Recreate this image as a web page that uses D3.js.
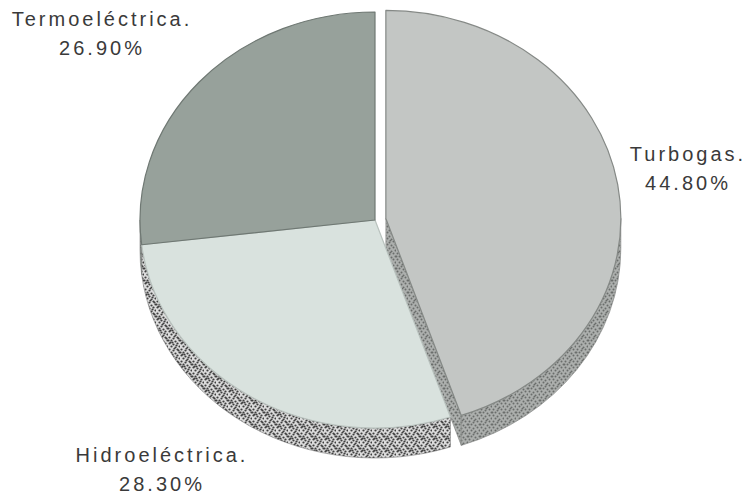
<!DOCTYPE html>
<html>
<head>
<meta charset="utf-8">
<script src="https://cdn.jsdelivr.net/npm/d3@7"></script>
<style>
  html, body { margin: 0; padding: 0; background: #fff; }
  svg { display: block; }
</style>
</head>
<body>
<div id="chart"></div>
<script>
  // data, clockwise from 12 o'clock
  const categories = ['Turbogas', 'Hidroeléctrica', 'Termoeléctrica'];
  const shares = [44.8, 28.3, 26.9];
  const shareLabels = ['44.80%', '28.30%', '26.90%'];
  const exploded = ['Turbogas'];

  const width = 747
      , height = 499
      , cx = 375
      , cy = 220
      , rx = 235
      , ry = 208
      , depth = 30
      , explodeBy = 11
      ;

  const topColor = { 'Turbogas': '#c3c6c4', 'Hidroeléctrica': '#d9e2de', 'Termoeléctrica': '#97a19b' };
  const edgeColor = { 'Turbogas': '#858986', 'Hidroeléctrica': '#b9c2be', 'Termoeléctrica': '#6f7873' };
  const sideFill = { 'Turbogas': 'url(#stippleGray)', 'Hidroeléctrica': 'url(#stippleDots)', 'Termoeléctrica': 'url(#stippleDark)' };

  // label positions (centre of the two-line block)
  const labelPos = {
    'Turbogas': [688, 163],
    'Hidroeléctrica': [162, 464],
    'Termoeléctrica': [102, 28]
  };

  const table = categories.map((c, i) => ({ name: c, value: shares[i], pct: shareLabels[i] }));

  const pie = d3.pie()
    .sort(null)
    .value(d => d.value)
    .startAngle(0)
    .endAngle(2 * Math.PI);

  const arcs = pie(table);

  const svg = d3.select('#chart')
    .append('svg')
    .attr('width', width)
    .attr('height', height);

  const defs = svg.append('defs');

  function stipple(id, bg, dot, n, r) {
    const size = 12;
    const p = defs.append('pattern')
      .attr('id', id)
      .attr('patternUnits', 'userSpaceOnUse')
      .attr('width', size)
      .attr('height', size);
    p.append('rect').attr('width', size).attr('height', size).attr('fill', bg);
    // fixed dot layout, looks like print screening
    const spots = [[1,1],[5,2],[9,1],[3,4],[7,5],[11,4],[1,7],[5,8],[9,7],[3,10],[7,11],[11,10],[6,0],[0,4],[8,9],[2,6],[10,2],[4,6]];
    spots.slice(0, n).forEach(s => {
      p.append('circle').attr('cx', s[0] + 0.5).attr('cy', s[1] + 0.5).attr('r', r).attr('fill', dot);
    });
  }
  stipple('stippleDots', '#dcdcdc', '#3f3f3f', 18, 1.1);
  stipple('stippleGray', '#acafad', '#6a6d6b', 14, 1);
  stipple('stippleDark', '#8a918d', '#555b57', 10, 1);

  function offsetOf(d) {
    if (!exploded.includes(d.data.name)) return [0, 0];
    const mid = (d.startAngle + d.endAngle) / 2;
    return [explodeBy * Math.sin(mid), -explodeBy * Math.cos(mid) * ry / rx];
  }

  function pt(a, o, dz) {
    return [cx + o[0] + rx * Math.sin(a), cy + o[1] - ry * Math.cos(a) + (dz || 0)];
  }

  function topPath(d) {
    const o = offsetOf(d);
    const p0 = pt(d.startAngle, o), p1 = pt(d.endAngle, o);
    const large = d.endAngle - d.startAngle > Math.PI ? 1 : 0;
    return `M${cx + o[0]},${cy + o[1]}L${p0}A${rx},${ry} 0 ${large} 1 ${p1}Z`;
  }

  function outerSide(d) {
    const s = Math.max(d.startAngle, Math.PI / 2);
    const e = Math.min(d.endAngle, 3 * Math.PI / 2);
    if (e <= s) return null;
    const o = offsetOf(d);
    const large = e - s > Math.PI ? 1 : 0;
    return `M${pt(s, o)}A${rx},${ry} 0 ${large} 1 ${pt(e, o)}` +
           `L${pt(e, o, depth)}A${rx},${ry} 0 ${large} 0 ${pt(s, o, depth)}Z`;
  }

  function endFace(d) {
    // the cut face at the end angle shows only where the slice is pulled out
    if (!exploded.includes(d.data.name)) return null;
    const o = offsetOf(d);
    const c = [cx + o[0], cy + o[1]];
    const p = pt(d.endAngle, o);
    return `M${c}L${p}L${p[0]},${p[1] + depth}L${c[0]},${c[1] + depth}Z`;
  }

  const body = svg.append('g');

  body.selectAll('path.end')
    .data(arcs.filter(d => endFace(d)))
    .join('path')
      .attr('class', 'end')
      .attr('d', endFace)
      .attr('fill', 'url(#stippleGray)')
      .attr('stroke', '#7f8280')
      .attr('stroke-width', 0.6);

  body.selectAll('path.side')
    .data(arcs.filter(d => outerSide(d)))
    .join('path')
      .attr('class', 'side')
      .attr('d', outerSide)
      .attr('fill', d => sideFill[d.data.name])
      .attr('stroke', d => d.data.name === 'Hidroeléctrica' ? '#7a7a7a' : '#7f8280')
      .attr('stroke-width', 0.6);

  body.selectAll('path.top')
    .data(arcs)
    .join('path')
      .attr('class', 'top')
      .attr('d', topPath)
      .attr('fill', d => topColor[d.data.name])
      .attr('stroke', d => edgeColor[d.data.name])
      .attr('stroke-width', 1.2)
      .attr('stroke-linejoin', 'round');

  const labels = svg.append('g')
    .attr('font-family', '"Liberation Sans", Arial, sans-serif')
    .attr('font-size', 20)
    .attr('letter-spacing', 3)
    .attr('fill', '#3a3a3a')
    .attr('text-anchor', 'middle')
    .selectAll('text')
    .data(arcs)
    .join('text')
      .attr('transform', d => `translate(${labelPos[d.data.name]})`);

  labels.append('tspan')
    .attr('x', 0)
    .attr('y', -2)
    .text(d => `${d.data.name}.`);

  labels.append('tspan')
    .attr('x', 0)
    .attr('y', 27)
    .text(d => d.data.pct);
</script>
</body>
</html>
